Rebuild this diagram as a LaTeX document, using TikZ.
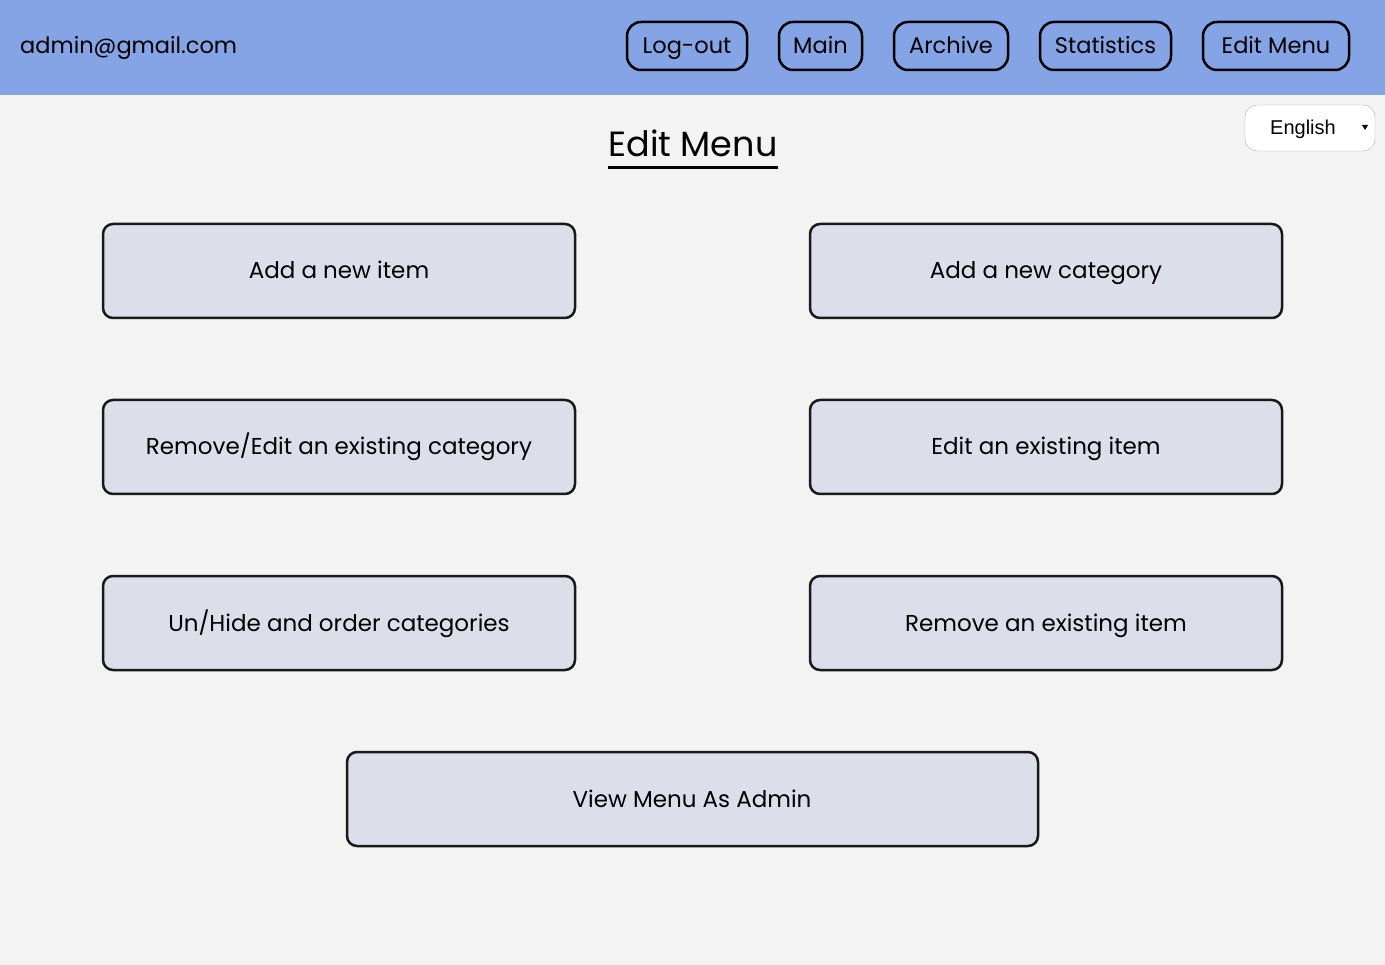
\documentclass[tikz,border=0pt]{standalone}
\usepackage{fontspec}
\setmainfont{Poppins}
\newfontfamily\arialf{Liberation Sans}
\definecolor{hdr}{HTML}{84A4E6}
\definecolor{bg}{HTML}{F3F3F3}
\definecolor{boxf}{HTML}{DCDFEA}
\begin{document}
\begin{tikzpicture}[x=1pt,y=-1pt,
 navtxt/.style={anchor=base,inner sep=0pt,font=\fontsize{22.5}{26}\selectfont},
 boxtxt/.style={anchor=base,inner sep=0pt,font=\fontsize{23}{26}\selectfont},
 boxshape/.style={draw=black!90,fill=boxf,line width=2.5pt,rounded corners=10pt}]
\fill[bg] (0,0) rectangle (1385,965);
\useasboundingbox (0,0) rectangle (1385,965);
\fill[hdr] (0,0) rectangle (1385,95);
\node[navtxt,anchor=base west] (user) at (20,54) {admin@gmail.com};
\foreach \n/\a/\b/\t in {lo/627/747/Log-out,mn/779/862/Main,ar/894/1008/Archive,st/1040/1171/Statistics,em/1203/1349/Edit Menu}{
 \draw[line width=2.5pt,rounded corners=14pt] (\a,22) rectangle (\b,70);
 \node[navtxt] (\n) at ({(\a+\b)/2},54) {\t};
}
\draw[draw=black!30,fill=white,rounded corners=12pt] (1245,105) rectangle (1375,151);
\node[anchor=base,inner sep=0pt,font=\arialf\fontsize{20}{22}\selectfont] (lang) at (1303,135) {English};
\fill (1362,125) -- (1368,125) -- (1365,130) -- cycle;
\node[anchor=base,inner sep=0pt,font=\fontsize{35}{40}\selectfont] (title) at (693,157) {Edit Menu};
\draw[line width=3pt] (608,168) -- (778,168);
\foreach \a/\y in {103/224,810/224,103/400,810/400,103/576,810/576}
 \draw[boxshape] (\a,\y) rectangle ({\a+472},{\y+94});
\draw[boxshape] (347,752) rectangle (1038,846);
\node[boxtxt] (b1) at (339,279) {Add a new item};
\node[boxtxt] (b2) at (1046,279) {Add a new category};
\node[boxtxt] (b3) at (339,455) {Remove/Edit an existing category};
\node[boxtxt] (b4) at (1046,455) {Edit an existing item};
\node[boxtxt] (b5) at (339,631) {Un/Hide and order categories};
\node[boxtxt] (b6) at (1046,631) {Remove an existing item};
\node[boxtxt] (b7) at (692,807) {View Menu As Admin};
\end{tikzpicture}
\end{document}
